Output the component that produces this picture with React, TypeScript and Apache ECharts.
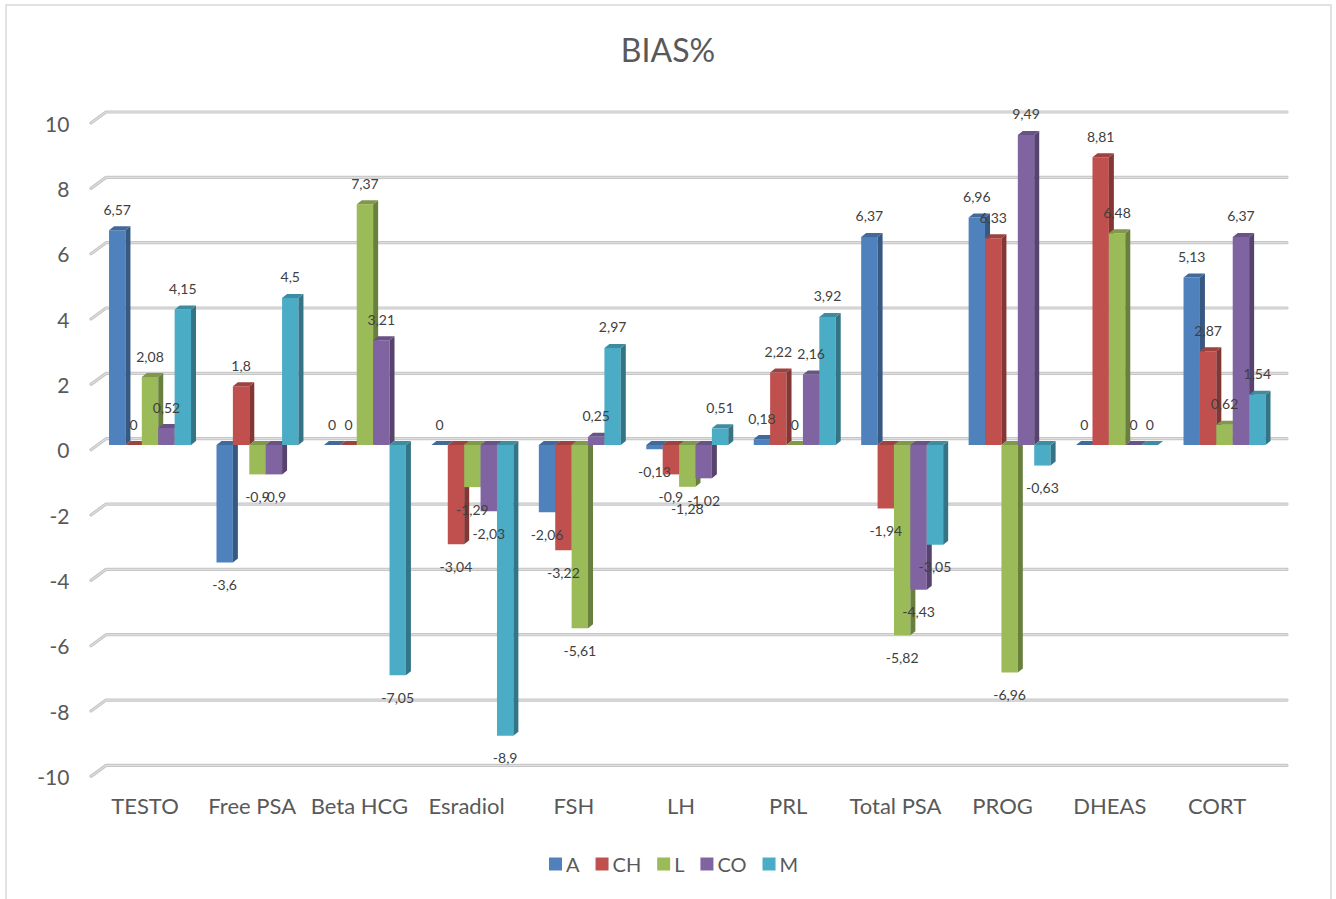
import React, { useEffect, useRef } from "react";
import * as echarts from "echarts";

const categories = ["TESTO", "Free PSA", "Beta HCG", "Esradiol", "FSH", "LH", "PRL", "Total PSA", "PROG", "DHEAS", "CORT"];
const seriesNames = ["A", "CH", "L", "CO", "M"];
const valuesA = [6.57, -3.6, 0, 0, -2.06, -0.13, 0.18, 6.37, 6.96, 0, 5.13];
const valuesCH = [0, 1.8, 0, -3.04, -3.22, -0.9, 2.22, -1.94, 6.33, 8.81, 2.87];
const valuesL = [2.08, -0.9, 7.37, -1.29, -5.61, -1.28, 0, -5.82, -6.96, 6.48, 0.62];
const valuesCO = [0.52, -0.9, 3.21, -2.03, 0.25, -1.02, 2.16, -4.43, 9.49, 0, 6.37];
const valuesM = [4.15, 4.5, -7.05, -8.9, 2.97, 0.51, 3.92, -3.05, -0.63, 0, 1.54];
const yTicks = [-10, -8, -6, -4, -2, 0, 2, 4, 6, 8, 10];

const seriesValues = [valuesA, valuesCH, valuesL, valuesCO, valuesM];
const colors = ["#4F81BD", "#C0504D", "#9BBB59", "#8064A2", "#4BACC6"];
const FONT = "Lato, 'Open Sans', sans-serif";

function shade(hex: string, f: number): string {
  const n = parseInt(hex.slice(1), 16);
  const r = Math.round(((n >> 16) & 255) * f);
  const g = Math.round(((n >> 8) & 255) * f);
  const b = Math.round((n & 255) * f);
  return `rgb(${r},${g},${b})`;
}

function fmt(v: number): string {
  return String(v).replace(".", ",");
}

export default function App() {
  const ref = useRef<HTMLDivElement>(null);

  useEffect(() => {
    if (!ref.current) return;
    const chart = echarts.init(ref.current, undefined, { renderer: "svg" });

    const DX = 5;
    const DY = -4;

    const barSeries = seriesNames.map((name, k) => ({
      name,
      type: "custom",
      xAxisIndex: 0,
      yAxisIndex: 0,
      z: 3,
      itemStyle: { color: colors[k] },
      encode: { x: 0, y: 1 },
      data: seriesValues[k].map((v, i) => [i, v]),
      renderItem: (params: any, api: any) => {
        const ci = api.value(0);
        const v = api.value(1);
        const band = api.size([1, 0])[0];
        const bw = (band * 0.763) / 5;
        const base = api.coord([ci, 0]);
        const cx = base[0] + (k - 2) * bw;
        const y0 = base[1];
        const y1 = api.coord([ci, v])[1];
        const xl = cx - bw / 2;
        const xr = cx + bw / 2;
        const top = Math.min(y0, y1);
        const bot = Math.max(y0, y1);
        const c = colors[k];
        return {
          type: "group",
          children: [
            {
              type: "rect",
              shape: { x: xl, y: top, width: bw, height: bot - top },
              style: { fill: c },
              z2: 1,
            },
            {
              type: "polygon",
              shape: { points: [[xr, top], [xr + DX, top + DY], [xr + DX, bot + DY], [xr, bot]] },
              style: { fill: shade(c, 0.68) },
              z2: 1,
            },
            {
              type: "polygon",
              shape: { points: [[xl, top], [xl + DX, top + DY], [xr + DX, top + DY], [xr, top]] },
              style: { fill: shade(c, 0.82) },
              z2: 1,
            },
            {
              type: "text",
              z2: 100,
              style: {
                text: fmt(v),
                x: cx,
                y: v >= 0 ? y1 - 21 : y1 + 22,
                align: "center",
                verticalAlign: "middle",
                fontSize: 14,
                fontFamily: FONT,
                fill: "#404040",
              },
            },
          ],
        };
      },
    }));

    const gridSeries = {
      name: "grid",
      type: "custom",
      xAxisIndex: 1,
      yAxisIndex: 1,
      z: 1,
      silent: true,
      encode: { x: 0, y: 1 },
      data: yTicks.map((t) => [0, t]),
      renderItem: (params: any, api: any) => {
        const cs = params.coordSys;
        const y = api.coord([0, api.value(1)])[1];
        const pts = [
          [cs.x - 15, y + 11],
          [cs.x, y],
          [cs.x + cs.width, y],
        ];
        return {
          type: "group",
          children: [
            {
              type: "polyline",
              shape: { points: pts },
              style: { stroke: "#c6c6c6", lineWidth: 3.2, fill: "none", lineCap: "round", lineJoin: "round" },
            },
            {
              type: "polyline",
              shape: { points: pts },
              style: { stroke: "#e4e4e4", lineWidth: 1, fill: "none", lineCap: "round", lineJoin: "round" },
            },
          ],
        };
      },
    };

    const PLOT_H = 653.4;

    const option: any = {
      animation: false,
      backgroundColor: "#ffffff",
      title: {
        text: "BIAS%",
        left: "center",
        top: 28,
        textStyle: { fontFamily: FONT, fontSize: 32, fontWeight: "normal", color: "#595959" },
      },
      legend: {
        data: seriesNames,
        left: 544,
        top: 849,
        icon: "rect",
        itemWidth: 13,
        itemHeight: 13,
        itemGap: 16,
        textStyle: { fontFamily: FONT, fontSize: 20, color: "#595959", padding: [0, 0, 0, -1] },
      },
      graphic: [
        {
          type: "rect",
          shape: { x: 6, y: 5, width: 1325, height: 920 },
          style: { fill: "none", stroke: "#d9d9d9", lineWidth: 1.5 },
          silent: true,
          z: 0,
        },
      ],
      grid: [
        { left: 96.3, width: 1181.95, top: 118.3, height: PLOT_H },
        { left: 106, right: 49, top: 112, height: PLOT_H },
        { left: 91.4, width: 1179.2, top: 123, height: PLOT_H },
      ],
      xAxis: [
        { type: "category", gridIndex: 0, data: categories, boundaryGap: true, show: false },
        { type: "value", gridIndex: 1, min: 0, max: 1, show: false },
        {
          type: "category",
          gridIndex: 2,
          data: categories,
          boundaryGap: true,
          axisLine: { show: false },
          axisTick: { show: false },
          splitLine: { show: false },
          axisLabel: { fontFamily: FONT, fontSize: 22, color: "#595959", margin: 18, interval: 0 },
        },
      ],
      yAxis: [
        { type: "value", gridIndex: 0, min: -10, max: 10, interval: 2, show: false },
        { type: "value", gridIndex: 1, min: -10, max: 10, interval: 2, show: false },
        {
          type: "value",
          gridIndex: 2,
          min: -10,
          max: 10,
          interval: 2,
          axisLine: { show: false },
          axisTick: { show: false },
          splitLine: { show: false },
          axisLabel: { fontFamily: FONT, fontSize: 21, color: "#595959", margin: 22 },
        },
      ],
      series: [gridSeries, ...barSeries],
    };

    chart.setOption(option);
    return () => chart.dispose();
  }, []);

  return (
    <div
      ref={ref}
      style={{ position: "fixed", left: 0, top: 0, width: 1336, height: 899, background: "#fff" }}
    />
  );
}
